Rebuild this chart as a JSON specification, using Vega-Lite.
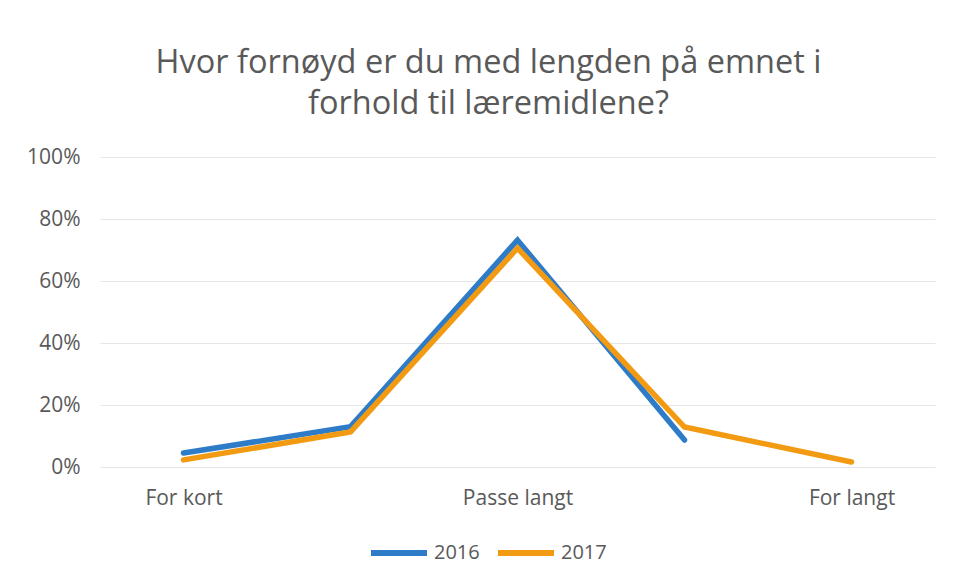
{
  "$schema": "https://vega.github.io/schema/vega-lite/v6.json",
  "width": 835,
  "height": 310,
  "autosize": {"type": "none"},
  "padding": {"left": 100, "top": 157, "right": 22, "bottom": 119},
  "background": "white",
  "title": {
    "text": ["Hvor fornøyd er du med lengden på emnet i", "forhold til læremidlene?"],
    "font": "Open Sans",
    "fontSize": 32.5,
    "fontWeight": "normal",
    "color": "#595959",
    "lineHeight": 41,
    "anchor": "middle",
    "frame": "group",
    "dx": -29,
    "offset": 26
  },
  "data": {
    "values": [
      {"nr": 1, "aar": "2016", "andel": 0.045},
      {"nr": 2, "aar": "2016", "andel": 0.13},
      {"nr": 3, "aar": "2016", "andel": 0.732},
      {"nr": 4, "aar": "2016", "andel": 0.087},
      {"nr": 1, "aar": "2017", "andel": 0.023},
      {"nr": 2, "aar": "2017", "andel": 0.113},
      {"nr": 3, "aar": "2017", "andel": 0.706},
      {"nr": 4, "aar": "2017", "andel": 0.129},
      {"nr": 5, "aar": "2017", "andel": 0.016}
    ]
  },
  "mark": {"type": "line", "strokeWidth": 5.5, "strokeCap": "round", "strokeJoin": "miter"},
  "encoding": {
    "x": {
      "field": "nr",
      "type": "ordinal",
      "scale": {"domain": [1, 2, 3, 4, 5]},
      "axis": {
        "title": null,
        "labelAngle": 0,
        "labelExpr": "datum.value == 1 ? 'For kort' : datum.value == 3 ? 'Passe langt' : datum.value == 5 ? 'For langt' : ''",
        "labelFont": "Open Sans",
        "labelFontSize": 21,
        "labelColor": "#595959",
        "labelPadding": 20,
        "domain": false,
        "ticks": false,
        "grid": false
      }
    },
    "y": {
      "field": "andel",
      "type": "quantitative",
      "scale": {"domain": [0, 1]},
      "axis": {
        "title": null,
        "format": "%",
        "values": [0, 0.2, 0.4, 0.6, 0.8, 1],
        "labelFont": "Open Sans",
        "labelFontSize": 21,
        "labelColor": "#595959",
        "labelPadding": 20,
        "domain": false,
        "ticks": false,
        "gridColor": "#E6E6E6",
        "gridWidth": 1
      }
    },
    "color": {
      "field": "aar",
      "type": "nominal",
      "scale": {"domain": ["2016", "2017"], "range": ["#2E7CC8", "#F29A12"]},
      "legend": {
        "title": null,
        "orient": "none",
        "direction": "horizontal",
        "legendX": 268,
        "legendY": 365,
        "symbolType": "stroke",
        "symbolSize": 3136,
        "symbolStrokeWidth": 6,
        "labelFont": "Open Sans",
        "labelFontSize": 20,
        "labelColor": "#595959",
        "labelOffset": 4,
        "columnPadding": 6
      }
    }
  },
  "config": {"view": {"stroke": null}}
}
